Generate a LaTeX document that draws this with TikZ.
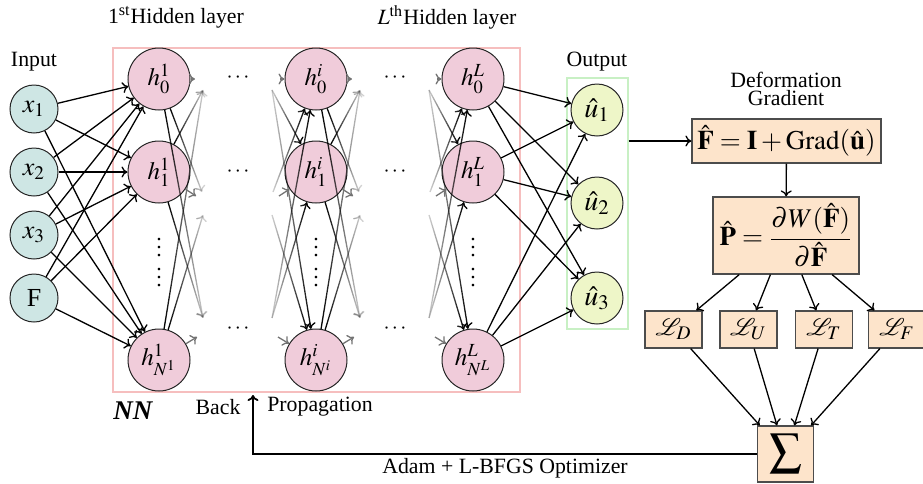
\documentclass[tikz,border=0pt]{standalone}
\usepackage{mathptmx}
\usepackage{mathrsfs}
\usepackage{fontspec}
\setmainfont{Liberation Serif}
\usetikzlibrary{fadings,arrows.meta}
\definecolor{inpcol}{RGB}{206,230,228}
\definecolor{hidcol}{RGB}{240,204,218}
\definecolor{outcol}{RGB}{238,246,200}
\definecolor{boxcol}{RGB}{253,228,203}
\definecolor{nnred}{RGB}{246,190,190}
\definecolor{outgreen}{RGB}{200,240,196}
\tikzfading[name=fadeR, left color=transparent!0, right color=transparent!82]
\tikzfading[name=fadeL, left color=transparent!82, right color=transparent!0]
\begin{document}
\begin{tikzpicture}[x=0.5pt,y=-0.5pt,
  >={To[length=3pt,width=5.5pt]},
  font=\fontsize{10.9}{12}\selectfont,
  inp/.style={circle, draw=black!85, line width=0.5pt, fill=inpcol, minimum size=24pt, inner sep=0pt, font=\fontsize{13}{13}\selectfont},
  hid/.style={circle, draw=black!85, line width=0.5pt, fill=hidcol, minimum size=31pt, inner sep=0pt, font=\fontsize{12.5}{12.5}\selectfont},
  outn/.style={circle, draw=black!85, line width=0.5pt, fill=outcol, minimum size=26pt, inner sep=0pt, font=\fontsize{14}{14}\selectfont},
  eqbox/.style={rectangle, draw=black!70, line width=0.6pt, fill=boxcol, inner sep=0pt},
  conn/.style={->, line width=0.65pt, draw=black},
  fout/.style={->, line width=0.65pt, draw=black, path fading=fadeR},
  fin/.style={->, line width=0.65pt, draw=black, path fading=fadeL},
  fshort/.style={->, line width=0.65pt, draw=black!55},
  lab/.style={inner sep=1pt}]
\useasboundingbox (0,0) rectangle (923,483);

% frames
\node[draw=nnred, line width=0.6pt, minimum width=203.5pt, minimum height=172pt, inner sep=0pt] (nnbox) at (316.5,220) {};
\node[draw=outgreen, line width=0.6pt, minimum width=30.5pt, minimum height=125.5pt, inner sep=0pt] (obox) at (597.5,203.5) {};

% labels
\node[lab] (tin) at (34,62) {Input};
\node[lab] (tout) at (597,62) {Output};
\node[lab] (t1) at (176,17) {1\textsuperscript{st}Hidden layer};
\node[lab] (tL) at (447,17) {$L^{\mathrm{th}}$Hidden layer};
\node[lab, anchor=west, font=\fontsize{13.5}{14}\selectfont\bfseries\itshape] (tnn) at (111,411) {NN};
\node[lab] (tback) at (218,407) {Back};
\node[lab] (tprop) at (320,407) {Propagation};
\node[lab] (tadam) at (505,468) {Adam + L-BFGS Optimizer};
\node[lab, align=center, font=\fontsize{10.9}{9}\selectfont] (tdef) at (786,89) {Deformation\\Gradient};

% input nodes
\node[inp] (x1) at (34,109) {$x_1$};
\node[inp] (x2) at (34,172) {$x_2$};
\node[inp] (x3) at (34,235) {$x_3$};
\node[inp] (xF) at (34,298) {F};

% hidden layers
\foreach \L/\X/\s in {a/159/1, b/316/i, c/473/L}{
  \node[hid] (\L0) at (\X,79) {$h_0^{\s}$};
  \node[hid] (\L1) at (\X,172) {$h_1^{\s}$};
  \node[hid] (\L2) at (\X,360) {$h_{N^{\s}}^{\s}$};
  \node (\L v1) at (\X,242) {$\vdots$};
  \node (\L v2) at (\X,272) {$\vdots$};
}
\foreach \D/\X in {p/238, q/395}{
  \node (\D h0) at (\X,78) {$\cdots$};
  \node (\D h1) at (\X,172) {$\cdots$};
  \node (\D h2) at (\X,329) {$\cdots$};
}

% output nodes
\node[outn] (u1) at (597,110) {$\hat{u}_1$};
\node[outn] (u2) at (597,203) {$\hat{u}_2$};
\node[outn] (u3) at (597,298) {$\hat{u}_3$};

% input -> layer 1
\foreach \i in {x1,x2,x3,xF}{
  \foreach \j in {a0,a1,a2}{
    \draw[conn] (\i) -- (\j);
  }
}
% layer L -> outputs
\foreach \i in {c0,c1,c2}{
  \foreach \j in {u1,u2,u3}{
    \draw[conn] (\i) -- (\j);
  }
}

% faded outgoing connections
\foreach \L/\X in {a/159, b/316}{
  \coordinate (\L oA) at ({\X+44},90);
  \coordinate (\L oB) at ({\X+43},192);
  \coordinate (\L oC) at ({\X+44},215);
  \coordinate (\L oD) at ({\X+44},318);
  \coordinate (\L sA) at ({\X+36},79);
  \coordinate (\L sB) at ({\X+37},196);
  \coordinate (\L sC) at ({\X+38},337);
  \draw[fout] (\L0) -- (\L oB);
  \draw[fout] (\L0) -- (\L oD);
  \draw[fout] (\L1) -- (\L oA);
  \draw[fout] (\L1) -- (\L oD);
  \draw[fout] (\L2) -- (\L oA);
  \draw[fout] (\L2) -- (\L oC);
  \draw[fshort] (\L0) -- (\L sA);
  \draw[fshort] (\L1) -- (\L sB);
  \draw[fshort] (\L2) -- (\L sC);
}
% faded incoming connections
\foreach \L/\X in {b/316, c/473}{
  \coordinate (\L iA) at ({\X-44},90);
  \coordinate (\L iB) at ({\X-43},192);
  \coordinate (\L iC) at ({\X-44},215);
  \coordinate (\L iD) at ({\X-44},318);
  \coordinate (\L tA) at ({\X-36},79);
  \coordinate (\L tB) at ({\X-37},196);
  \coordinate (\L tC) at ({\X-38},337);
  \draw[fin] (\L iB) -- (\L0);
  \draw[fin] (\L iD) -- (\L0);
  \draw[fin] (\L iA) -- (\L1);
  \draw[fin] (\L iD) -- (\L1);
  \draw[fin] (\L iA) -- (\L2);
  \draw[fin] (\L iC) -- (\L2);
  \draw[fshort] (\L tA) -- (\L0);
  \draw[fshort] (\L tB) -- (\L1);
  \draw[fshort] (\L tC) -- (\L2);
}

% right-hand physics part
\node[eqbox, minimum width=94.5pt, minimum height=22pt, font=\fontsize{13.5}{14}\selectfont] (fb) at (786.5,141) {$\hat{\mathbf{F}}=\mathbf{I}+\mathrm{Grad}(\hat{\mathbf{u}})$};
\node[eqbox, minimum width=73pt, minimum height=38.5pt, font=\fontsize{13.5}{14}\selectfont] (pb) at (786,235.5) {$\hat{\mathbf{P}}=\displaystyle\frac{\partial W(\hat{\mathbf{F}})}{\partial\hat{\mathbf{F}}}$};
\node[eqbox, minimum width=28.5pt, minimum height=18.5pt, font=\fontsize{13}{13}\selectfont] (lD) at (673.5,329.5) {$\mathscr{L}_D$};
\node[eqbox, minimum width=28.5pt, minimum height=18.5pt, font=\fontsize{13}{13}\selectfont] (lU) at (748.5,329.5) {$\mathscr{L}_U$};
\node[eqbox, minimum width=28.5pt, minimum height=18.5pt, font=\fontsize{13}{13}\selectfont] (lT) at (824,329.5) {$\mathscr{L}_T$};
\node[eqbox, minimum width=28.5pt, minimum height=18.5pt, font=\fontsize{13}{13}\selectfont] (lF) at (897,329.5) {$\mathscr{L}_F$};
\node[eqbox, minimum width=28pt, minimum height=28pt, font=\fontsize{16}{16}\selectfont] (sg) at (785.5,454) {$\displaystyle\sum$};

\draw[conn] (obox.east |- fb.west) -- (fb.west);
\draw[conn] (fb) -- (pb);
\foreach \t in {lD,lU,lT,lF}{
  \draw[conn] (pb) -- (\t);
  \draw[conn] (\t) -- (sg);
}
\coordinate (bp) at (253,395);
\draw[conn, line width=0.9pt] (sg.west) -| (bp);
\end{tikzpicture}
\end{document}
